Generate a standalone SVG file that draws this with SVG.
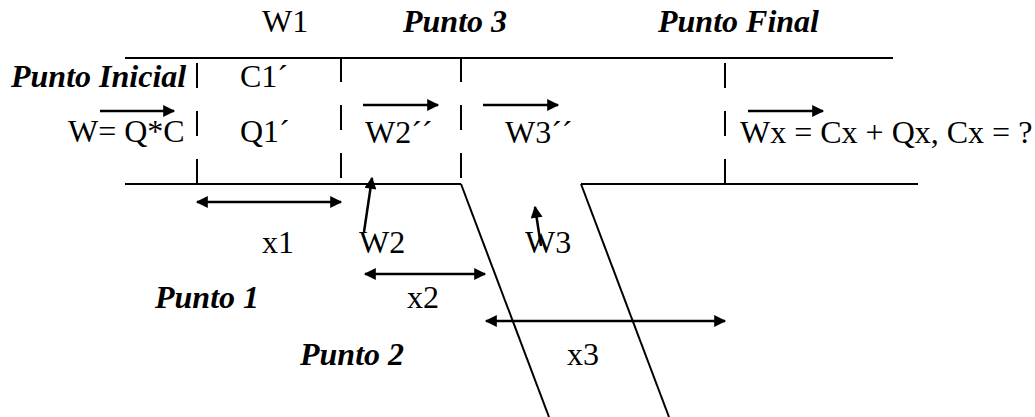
<svg xmlns="http://www.w3.org/2000/svg" width="1035" height="417" viewBox="0 0 1035 417">
<style>
text{font-family:'Liberation Serif',serif;font-size:32px;fill:#000}
.b{font-weight:bold;font-style:italic}
.ln{stroke:#000;stroke-width:2;fill:none}
.ds{stroke:#000;stroke-width:2;fill:none;stroke-dasharray:25 23}
.ar{stroke:#000;stroke-width:2.5;fill:none;marker-end:url(#ah)}
.da{stroke:#000;stroke-width:2.5;fill:none;marker-end:url(#ah);marker-start:url(#ah)}
</style>
<defs>
<marker id="ah" viewBox="0 0 10 10" refX="9" refY="5" markerWidth="15" markerHeight="12" markerUnits="userSpaceOnUse" orient="auto-start-reverse">
<path d="M0,0 L10,5 L0,10 z" fill="#000"/>
</marker>
</defs>
<rect width="1035" height="417" fill="#fff"/>
<g id="channel">
<line class="ln" x1="125" y1="58" x2="893" y2="58"/>
<line class="ln" x1="125" y1="184" x2="461" y2="184"/>
<line class="ln" x1="581" y1="184" x2="918" y2="184"/>
<line class="ln" x1="461" y1="184" x2="549" y2="417"/>
<line class="ln" x1="581" y1="184" x2="669" y2="417"/>
</g>
<g id="sections">
<line class="ds" x1="197" y1="63" x2="197" y2="184"/>
<line class="ds" x1="341" y1="57" x2="341" y2="184"/>
<line class="ds" x1="461" y1="57" x2="461" y2="184"/>
<line class="ds" x1="725" y1="63" x2="725" y2="184"/>
</g>
<g id="connectors">
<line class="ar" x1="100" y1="111" x2="174" y2="111"/>
<line class="ar" x1="363" y1="105" x2="438" y2="105"/>
<line class="ar" x1="483" y1="105" x2="558" y2="105"/>
<line class="ar" x1="748" y1="111" x2="823" y2="111"/>
<line class="da" x1="197" y1="202" x2="341" y2="202"/>
<line class="ar" x1="364" y1="232" x2="372" y2="178"/>
<line class="ar" x1="541" y1="246" x2="535" y2="207"/>
<line class="da" x1="365" y1="274" x2="485" y2="274"/>
<line class="da" x1="486" y1="321" x2="725" y2="321"/>
</g>
<g id="labels" font-family="Liberation Serif, serif">
<text x="262" y="32">W1</text>
<text class="b" x="403" y="32">Punto 3</text>
<text class="b" x="658" y="32">Punto Final</text>
<text class="b" x="11" y="87">Punto Inicial</text>
<text x="240" y="87">C1´</text>
<text x="68" y="142">W= Q*C</text>
<text x="240" y="142">Q1´</text>
<text x="365" y="143">W2´´</text>
<text x="505" y="143">W3´´</text>
<text x="740" y="143">Wx = Cx + Qx, Cx = ?</text>
<text x="262" y="253">x1</text>
<text x="359" y="253">W2</text>
<text x="525" y="253">W3</text>
<text class="b" x="155" y="308">Punto 1</text>
<text x="407" y="308">x2</text>
<text class="b" x="300" y="365">Punto 2</text>
<text x="567" y="365">x3</text>
</g>
</svg>
